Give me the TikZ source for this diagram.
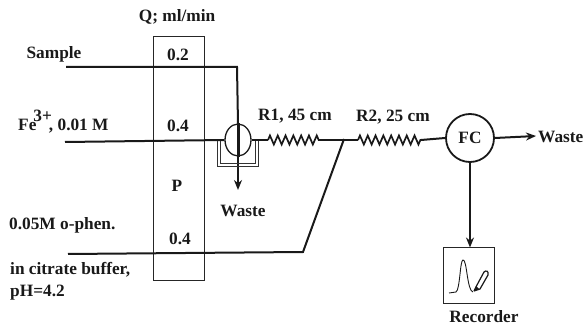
\documentclass[tikz,border=0pt]{standalone}
\usepackage{fontspec}
\setmainfont{Liberation Serif}
\usetikzlibrary{arrows.meta,decorations.pathmorphing,shapes.geometric}
\tikzset{
  lbl/.style={inner sep=0pt,font=\bfseries\fontsize{17.3}{20}\selectfont,text=black!90},
  tube/.style={line width=2pt,black!90},
  thin box/.style={draw=black!85,line width=1pt},
  flow/.style={tube,-{Stealth[length=10pt,width=8pt]}},
  coilr/.style={tube,line width=1.7pt,decorate,decoration={zigzag,segment length=7.8pt,amplitude=4.5pt}}
}
\begin{document}
\begin{tikzpicture}[x=1pt,y=-1pt]
\useasboundingbox (0,0) rectangle (587,326);
\node[thin box,minimum width=51pt,minimum height=243pt,inner sep=0pt] (pump) at (178.5,158.5) {};
% labels
\node[lbl] (q) at (177,17) {Q; ml/min};
\node[lbl] (s) at (54,54) {Sample};
\node[lbl,anchor=base west] (fe) at (18,131) {Fe\kern-3pt\raisebox{9pt}{3+}\kern-3pt, 0.01 M};
\node[lbl,anchor=west] (ph) at (9,225) {0.05M o-phen.};
\node[lbl,anchor=west] (cit) at (10,270) {in citrate buffer,};
\node[lbl,anchor=west] (phv) at (10,293) {pH=4.2};
\node[lbl] (q1) at (178,55) {0.2};
\node[lbl] (q2) at (178,126) {0.4};
\node[lbl] (pp) at (177,186) {P};
\node[lbl] (q3) at (180,239) {0.4};
\node[lbl] (r1) at (295,116) {R1, 45 cm};
\node[lbl] (r2) at (393,117) {R2, 25 cm};
\node[lbl] (w1) at (243,211) {Waste};
\node[lbl,anchor=west] (w2) at (538,137) {Waste};
\node[lbl] (rec) at (484,317) {Recorder};
% valve and FC
\node[draw=black!90,line width=1.3pt,ellipse,minimum width=26pt,minimum height=32pt,inner sep=0pt] (v) at (238,140) {};
\node[draw=black!90,line width=1.8pt,circle,minimum size=48pt,inner sep=0pt,lbl] (fc) at (470,138) {FC};
\node[thin box,minimum width=51pt,minimum height=55pt,inner sep=0pt] (recbox) at (468.5,275.5) {};
% free ends and bends
\coordinate (sa) at (66,67);
\coordinate (sb) at (237,67);
\coordinate (fa) at (65,142);
\coordinate (oa) at (68,254);
\coordinate (ob) at (303,252);
\coordinate (j) at (344,139);
\coordinate (r1a) at (268,140);
\coordinate (r1b) at (322,140);
\coordinate (r2a) at (358,140);
\coordinate (r2b) at (421,140);
\coordinate (wa) at (238,190);
\coordinate (wb) at (536,136);
\coordinate (top) at (238,124);
% tubes
\draw[tube] (sa) -- (sb) -- (top);
\draw[tube] (fa) -- (v.west);
\draw[tube] (oa) -- (ob) -- (j);
\draw[tube] (v.east) -- (r1a);
\draw[coilr] (r1a) -- (r1b);
\draw[tube] (r1b) -- (r2a);
\draw[coilr] (r2a) -- (r2b);
\draw[tube] (r2b) -- (fc.west);
\draw[flow] (top) -- (wa);
\draw[tube,line width=3pt] (v.north) -- (v.south);
\draw[flow] (fc.east) -- (wb);
\draw[flow] (fc.south) -- (recbox.north -| fc.south);
% jacket round the valve
\draw[black!80,line width=1pt] (217,141) -- (217,167) -- (258,167) -- (258,141);
\draw[black!80,line width=1pt] (220,141) -- (220,164) -- (255,164) -- (255,141);
% trace and pen
\draw[line width=.9pt,black!90] (449,293) -- (456,292) .. controls (460,290) and (460,260) .. (463,260) .. controls (467,259) and (467,291) .. (473,292);
\draw[line width=1.2pt,black!90] (474,291) -- (477,285) -- (484,272) .. controls (486,270) and (489,271) .. (488,275) -- (480,289) -- (474,291);
\fill[black!90] (474,291) -- (476,286) -- (479,289) -- cycle;
\end{tikzpicture}
\end{document}
